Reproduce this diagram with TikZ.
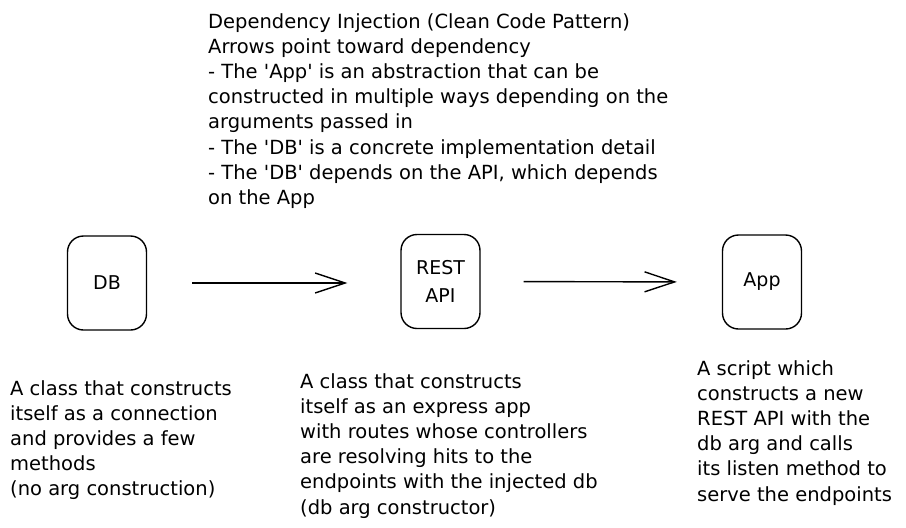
\documentclass[tikz,border=0pt]{standalone}
\usepackage{fontspec}
\setmainfont{DejaVu Sans}[Ligatures=TeXOff]
\usetikzlibrary{arrows.meta}
\tikzset{
  x=1pt, y=-1pt,
  box/.style={draw=black, line width=1.4pt, rounded corners=16pt, minimum width=79pt, minimum height=94pt, inner sep=0pt, font=\fontsize{19}{28}\selectfont, align=center},
  txt/.style={anchor=north west, inner sep=0pt, align=left, font=\fontsize{19.5}{25.1}\selectfont},
  conn/.style={line width=1.4pt, -{Straight Barb[length=30pt,width=20pt,line width=1.4pt]}}
}
\begin{document}
\begin{tikzpicture}
\useasboundingbox (0,0) rectangle (906,528);
\node[txt] (title) at (208,13.5) {Dependency Injection (Clean Code Pattern)\\Arrows point toward dependency\\- The 'App' is an abstraction that can be\\constructed in multiple ways depending on the\\arguments passed in\\- The 'DB' is a concrete implementation detail\\- The 'DB' depends on the API, which depends\\on the App};
\node[box] (db) at (107,283) {DB};
\node[box] (api) at (440.5,281.5) {REST\\API};
\node[box] (app) at (762,282) {App};
\draw[conn, shorten <=45pt, shorten >=53pt] (db.east) -- (api.west |- db.east);
\draw[conn, shorten <=43pt, shorten >=45pt] (api.east) -- (app.west);
\node[txt] (dbtxt) at (10,380.5) {A class that constructs\\itself as a connection\\and provides a few\\methods\\(no arg construction)};
\node[txt] (apitxt) at (300,373.5) {A class that constructs\\itself as an express app\\with routes whose controllers\\are resolving hits to the\\endpoints with the injected db\\(db arg constructor)};
\node[txt] (apptxt) at (697,360.5) {A script which\\constructs a new\\REST API with the\\db arg and calls\\its listen method to\\serve the endpoints};
\end{tikzpicture}
\end{document}
